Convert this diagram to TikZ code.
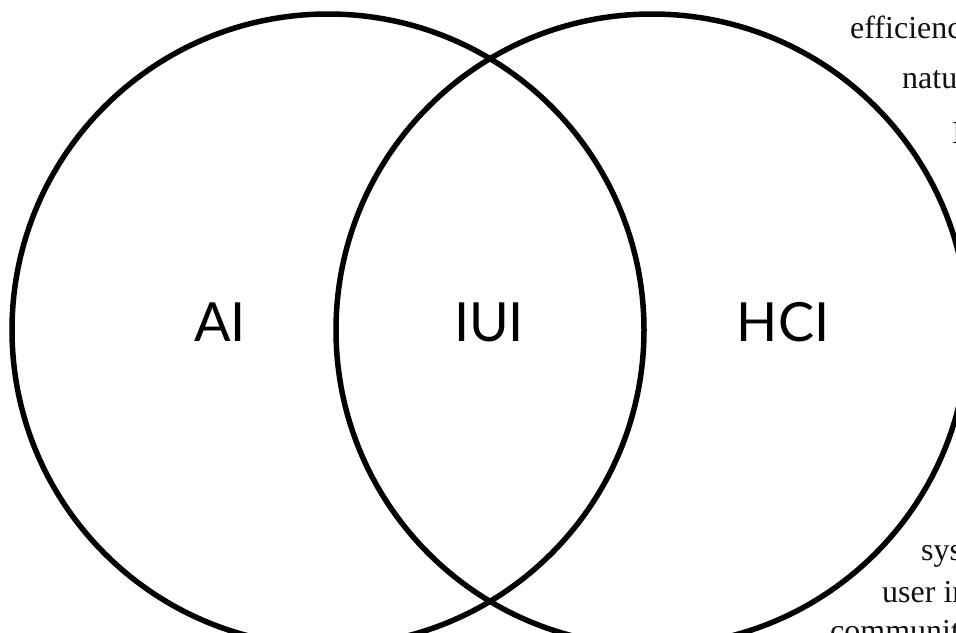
\documentclass[tikz,border=0pt]{standalone}
\usepackage{fontspec}
\setmainfont{Liberation Serif}
\newfontfamily\labelfont{Lato}
\usetikzlibrary{positioning}
\definecolor{ringblack}{HTML}{000000}
\definecolor{textdark}{HTML}{111111}

\begin{document}
\begin{tikzpicture}[x=1pt, y=-1pt,
    ring/.style={draw=ringblack, line width=5.5pt},
    fieldlabel/.style={font=\labelfont\fontsize{54}{60}\selectfont, text=ringblack, inner sep=0pt},
    sidetext/.style={font=\fontsize{32}{38}\selectfont, text=textdark, inner sep=0pt, anchor=base west}]
  \useasboundingbox (0,0) rectangle (956,632);
  \clip (0,0) rectangle (956,632);
  \fill[white] (0,0) rectangle (956,632);

  % the two fields
  \coordinate (aicentre) at (328,330);
  \coordinate (hcicentre) at (652,330);
  \draw[ring] (aicentre) circle[radius=316];
  \draw[ring] (hcicentre) circle[radius=316];

  \node[fieldlabel] (ai) at (220,322) {AI};
  \node[fieldlabel] (iui) at (489,322) {IUI};
  \node[fieldlabel] (hci) at (783,322) {HCI};

  % text running off the right edge
  \node[sidetext] (efficiency) at (850,38) {efficienc};
  \node[sidetext] (natural) at (902,88) {natu};
  \node[sidetext] (capital) at (952,143) {I};
  \node[sidetext] (system) at (921,560) {sys};
  \node[sidetext] (userint) at (882,602) {user in};
  \node[sidetext] (community) at (830,641) {communit};
\end{tikzpicture}
\end{document}
